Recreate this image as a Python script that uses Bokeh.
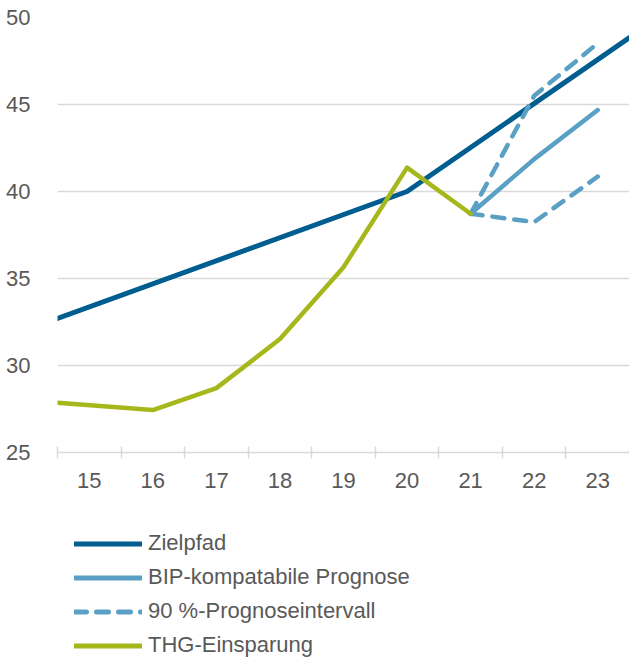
from bokeh.plotting import figure
from bokeh.layouts import column
from bokeh.models import Range1d, FixedTicker, Legend, LegendItem
from bokeh.embed import file_html
from bokeh.resources import INLINE

# Year labels (two-digit) and series values
years = [15, 16, 17, 18, 19, 20, 21, 22, 23]
ziel_x = [14.5, 20, 23.5]
ziel_y = [32.7, 40.0, 48.85]
thg_x = [14.5, 16, 17, 18, 19, 20, 21]
thg_y = [27.86, 27.44, 28.7, 31.52, 35.65, 41.37, 38.72]
prog_x = [21, 22, 23]
bip_y = [38.72, 41.86, 44.68]
upper_y = [38.72, 45.5, 48.52]
lower_y = [38.72, 38.24, 40.86]
y_ticks = [25, 30, 35, 40, 45, 50]
labels = ["Zielpfad", "BIP-kompatabile Prognose",
          "90 %-Prognoseintervall", "THG-Einsparung"]

DARK = "#005D8F"
LIGHT = "#5A9FC4"
GREEN = "#A6B71C"
GRID = "#D9D9D9"
TEXT = "#595959"
FONT = "Liberation Sans"
DASH = "12 10"
NAN = float("nan")

p = figure(width=629, height=500, output_backend="svg", toolbar_location=None,
           x_range=Range1d(14.5, 23.5), y_range=Range1d(25, 50),
           min_border_left=57, min_border_right=0, min_border_top=17,
           min_border_bottom=48)
p.outline_line_color = None
p.border_fill_color = "white"

# x axis: labels at the year centres, tick marks between categories
boundaries = [y - 0.5 for y in years] + [years[-1] + 0.5]
p.xaxis.ticker = FixedTicker(ticks=years, minor_ticks=boundaries)
p.xaxis.major_tick_in = 0
p.xaxis.major_tick_out = 0
p.xaxis.minor_tick_in = 6
p.xaxis.minor_tick_out = 6
p.xaxis.minor_tick_line_color = GRID
p.xaxis.minor_tick_line_width = 1.5
p.xaxis.axis_line_color = GRID
p.xaxis.axis_line_width = 1.5
p.xaxis.major_label_standoff = 14
p.xaxis.major_label_text_font = FONT
p.xaxis.major_label_text_font_size = "22px"
p.xaxis.major_label_text_color = TEXT

p.yaxis.ticker = FixedTicker(ticks=y_ticks)
p.yaxis.axis_line_color = None
p.yaxis.major_tick_line_color = None
p.yaxis.minor_tick_line_color = None
p.yaxis.major_label_standoff = 21
p.yaxis.major_label_text_font = FONT
p.yaxis.major_label_text_font_size = "22px"
p.yaxis.major_label_text_color = TEXT

p.xgrid.grid_line_color = None
p.ygrid.ticker = FixedTicker(ticks=y_ticks[1:])
p.ygrid.grid_line_color = GRID
p.ygrid.grid_line_width = 1.5

p.line(ziel_x, ziel_y, line_color=DARK, line_width=5,
       line_join="round", line_cap="round")
p.line(prog_x, lower_y, line_color=LIGHT, line_width=4.5,
       line_dash=DASH, line_cap="round", line_join="round")
p.line(prog_x, upper_y, line_color=LIGHT, line_width=4.5,
       line_dash=DASH, line_cap="round", line_join="round")
p.line(prog_x, bip_y, line_color=LIGHT, line_width=4.5,
       line_join="round", line_cap="round")
p.line(thg_x, thg_y, line_color=GREEN, line_width=4.5,
       line_join="round", line_cap="round")

# Legend panel underneath the chart
lg = figure(width=629, height=158, output_backend="svg", toolbar_location=None,
            x_range=Range1d(0, 1), y_range=Range1d(0, 1), min_border=0,
            x_axis_location=None, y_axis_location=None)
lg.grid.visible = False
lg.outline_line_color = None
styles = [dict(line_color=DARK), dict(line_color=LIGHT),
          dict(line_color=LIGHT, line_dash=DASH), dict(line_color=GREEN)]
items = []
for label, st in zip(labels, styles):
    # no visible data: these renderers only supply the legend swatches
    r = lg.line([NAN, NAN], [NAN, NAN], line_width=5, line_cap="round", **st)
    items.append(LegendItem(label=label, renderers=[r]))

legend = Legend(items=items, location=(17, 0), orientation="vertical",
                border_line_color=None, background_fill_alpha=0,
                margin=0, padding=0, glyph_width=68, glyph_height=25,
                label_height=25, spacing=8, label_standoff=6,
                label_text_font=FONT, label_text_font_size="22px",
                label_text_color=TEXT)
lg.add_layout(legend, "center")

open("out.html", "w").write(file_html(column(p, lg, spacing=0), INLINE))
